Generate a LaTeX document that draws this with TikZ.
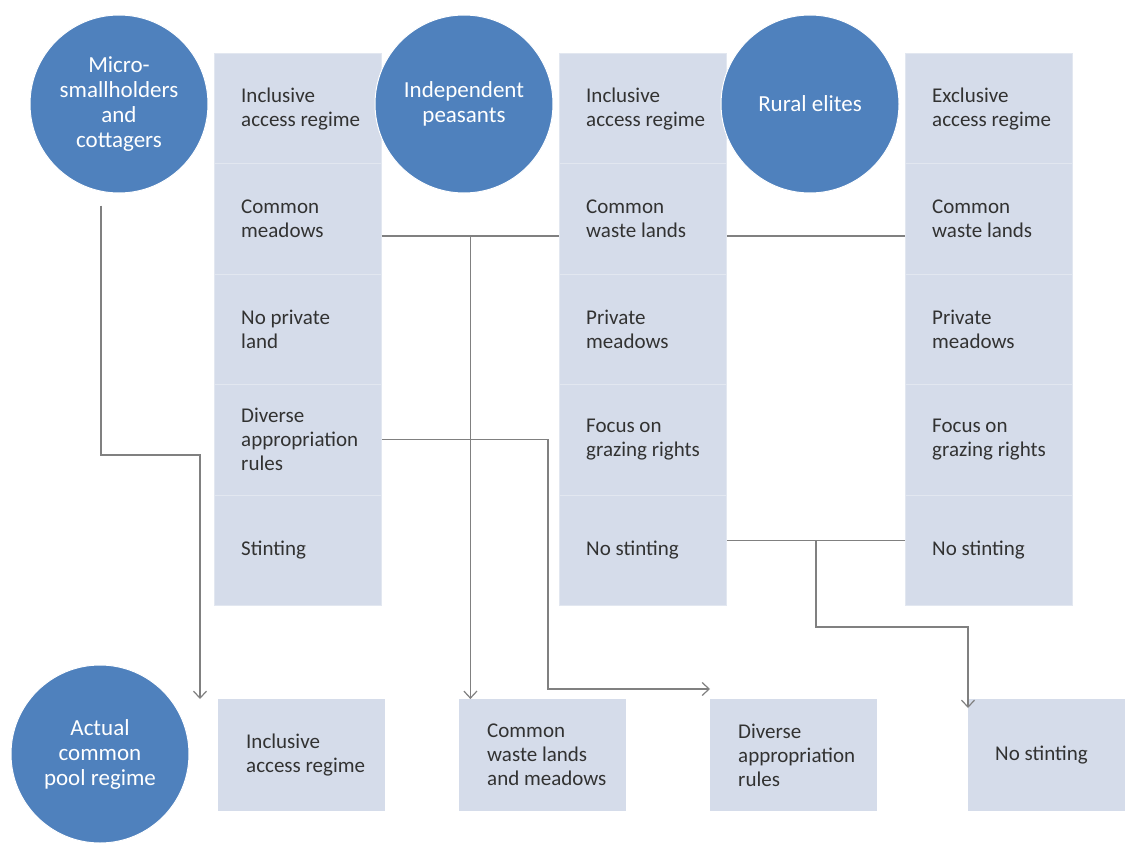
\documentclass[tikz,border=0pt]{standalone}
\usepackage{fontspec}
\setmainfont{Carlito}
\usetikzlibrary{arrows.meta,calc}
\definecolor{circblue}{HTML}{4F81BD}
\definecolor{cellfill}{RGB}{213,220,234}
\definecolor{cellline}{RGB}{226,231,240}
\definecolor{conncol}{RGB}{128,128,128}
\definecolor{celltextcol}{RGB}{50,50,50}
\newcommand\mycell[4]{%
  \node[cellbox, anchor=north west] (#1) at (#2,#3) {};
  \node[celltext, anchor=west] (#1t) at ([xshift=27pt]#1.west) {#4};}
\begin{document}
\begin{tikzpicture}[x=1pt,y=-1pt,
  circ/.style={circle, fill=circblue, draw=white, line width=1pt, minimum size=178pt, inner sep=0pt, text=white, align=center, font=\fontsize{23}{25}\selectfont},
  cellbox/.style={rectangle, fill=cellfill, draw=cellline, line width=0.8pt, minimum width=167pt, minimum height=110.4pt, inner sep=0pt},
  botbox/.style={rectangle, fill=cellfill, draw=none, minimum width=167pt, minimum height=112pt, inner sep=0pt},
  celltext/.style={align=left, inner sep=0pt, text=celltextcol, font=\fontsize{21}{24}\selectfont},
  conn/.style={draw=conncol, line width=1.2pt},
  arr/.style={conn, -{Straight Barb[length=7pt,width=13pt,line width=1.2pt]}},
]
\useasboundingbox (0,0) rectangle (1125,843);
\fill[white] (0,0) rectangle (1125,843);

% column 1
\mycell{c11}{214}{53}{Inclusive\\access regime}
\mycell{c12}{214}{163.4}{Common\\meadows}
\mycell{c13}{214}{273.8}{No private\\land}
\mycell{c14}{214}{384.2}{Diverse\\appropriation\\rules}
\mycell{c15}{214}{494.6}{Stinting}
% column 2
\mycell{c21}{559}{53}{Inclusive\\access regime}
\mycell{c22}{559}{163.4}{Common\\waste lands}
\mycell{c23}{559}{273.8}{Private\\meadows}
\mycell{c24}{559}{384.2}{Focus on\\grazing rights}
\mycell{c25}{559}{494.6}{No stinting}
% column 3
\mycell{c31}{905}{53}{Exclusive\\access regime}
\mycell{c32}{905}{163.4}{Common\\waste lands}
\mycell{c33}{905}{273.8}{Private\\meadows}
\mycell{c34}{905}{384.2}{Focus on\\grazing rights}
\mycell{c35}{905}{494.6}{No stinting}

% bottom boxes
\node[botbox, anchor=north west] (b1) at (218,699) {};
\node[celltext, anchor=west] (b1t) at ([xshift=28pt]b1.west) {Inclusive\\access regime};
\node[botbox, anchor=north west] (b2) at (459,699) {};
\node[celltext, anchor=west] (b2t) at ([xshift=28pt]b2.west) {Common\\waste lands\\and meadows};
\node[botbox, anchor=north west] (b3) at (710,699) {};
\node[celltext, anchor=west] (b3t) at ([xshift=28pt]b3.west) {Diverse\\appropriation\\rules};
\node[botbox, anchor=north west, minimum width=157pt] (b4) at (968,699) {};
\node[celltext, anchor=west] (b4t) at ([xshift=27pt]b4.west) {No stinting};

% circles
\node[circ] (m1) at (119,104) {Micro-\\smallholders\\and\\cottagers};
\node[circ] (ip) at (464,104) {Independent\\peasants};
\node[circ] (re) at (810,104) {Rural elites};
\node[circ] (ac) at (100,754) {Actual\\common\\pool regime};

% connectors
\draw[arr] ([xshift=-18pt,yshift=-12pt]m1.south) |- (200,455) -- ([xshift=-18pt]b1.north west);

\draw[conn] ([yshift=-17pt]c12.east) -- ([yshift=-17pt]c22.west);
\coordinate (j1) at ($([yshift=-17pt]c12.east)!0.5!([yshift=-17pt]c22.west)$);
\draw[arr] (j1) -- (j1 |- b2.north);
\draw[conn] ([yshift=-17pt]c22.east) -- ([yshift=-17pt]c32.west);

\coordinate (k1) at (548,689);
\draw[arr] (c14.east) -| (k1) -- (k1 -| b3.west);

\draw[conn] ([yshift=10pt]c25.east) -- ([yshift=10pt]c35.west);
\coordinate (j2) at ($([yshift=10pt]c25.east)!0.5!([yshift=10pt]c35.west)$);
\coordinate (k2) at (b4.west |- 0,627);
\draw[arr] (j2) |- (k2) -- ([yshift=-9pt]b4.north west);
\end{tikzpicture}
\end{document}
